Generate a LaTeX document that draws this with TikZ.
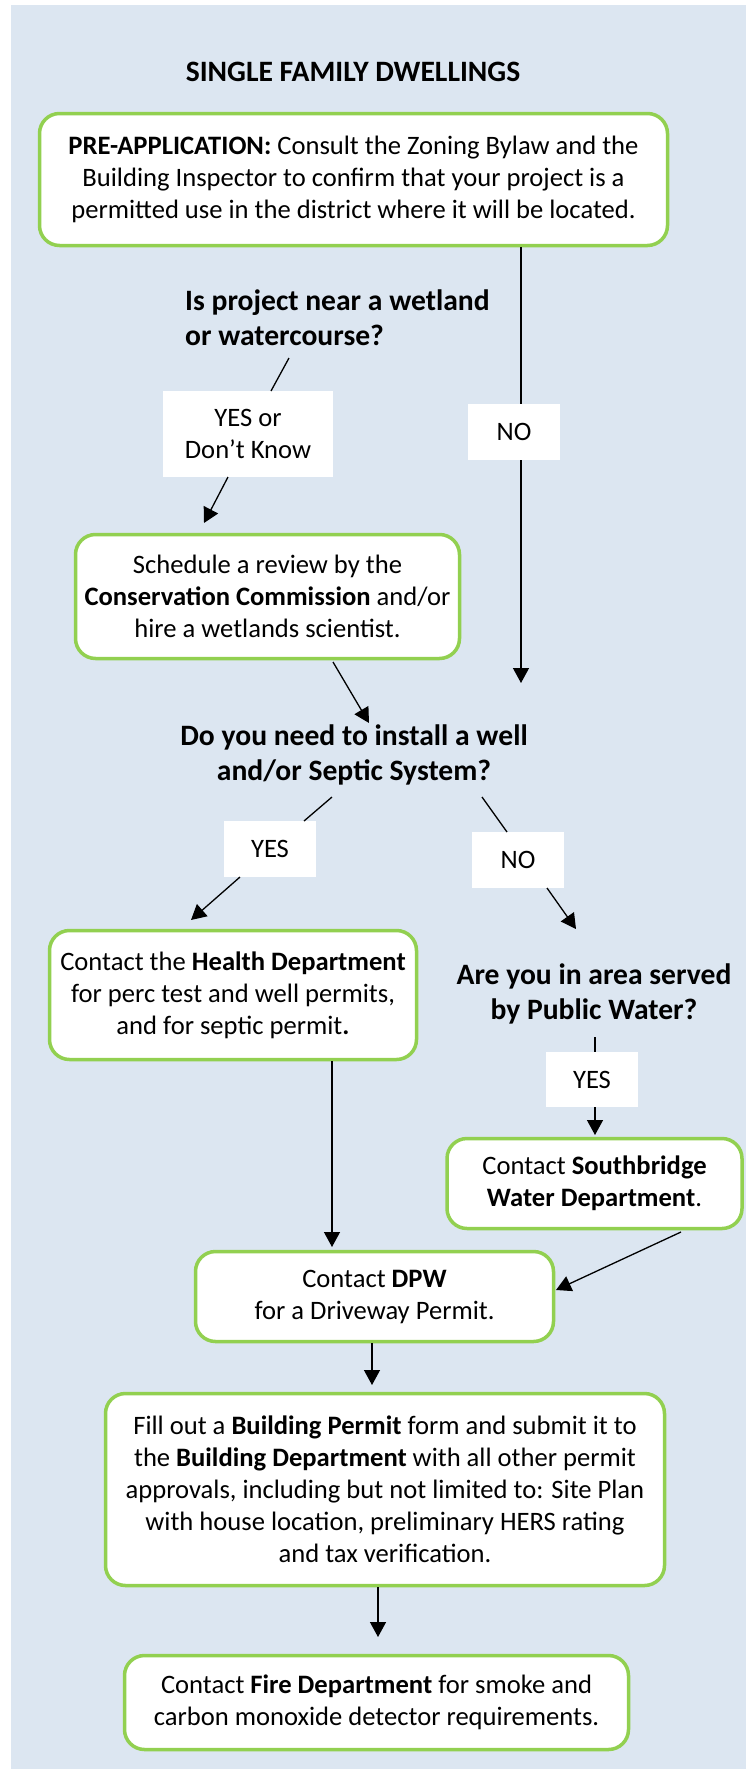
\documentclass[tikz,border=0pt]{standalone}
\usepackage{fontspec}
\setmainfont{Carlito}
\usetikzlibrary{arrows.meta}
\definecolor{bgblue}{RGB}{220,230,241}
\definecolor{boxgreen}{RGB}{146,208,80}
\tikzset{
  stepbox/.style={draw=boxgreen, line width=3.5pt, fill=white, rounded corners=20pt,
    align=center, inner sep=0pt, font=\fontsize{26.6}{32}\selectfont},
  lbl/.style={fill=white, inner sep=0pt, align=center, font=\fontsize{26.6}{32}\selectfont},
  qtext/.style={inner sep=0pt, font=\fontsize{29.6}{35}\selectfont\bfseries},
  conn/.style={line width=1.3pt},
  arr/.style={line width=1.3pt, -{Triangle[length=15pt,width=16pt]}},
}
\begin{document}
\begin{tikzpicture}[x=1pt,y=-1pt]
\useasboundingbox (0,0) rectangle (746,1769);
\fill[bgblue] (11,5) rectangle (746,1769);

\node[qtext] (title) at (353,72) {SINGLE FAMILY DWELLINGS};

\node[stepbox, minimum width=628pt, minimum height=132pt] (pre) at (353.5,179.5)
  {\textbf{PRE-APPLICATION:} Consult the Zoning Bylaw and the\\
   Building Inspector to confirm that your project is a\\
   permitted use in the district where it will be located.};

\node[qtext, anchor=west, align=left] (q1) at (185,317.5)
  {Is project near a wetland\\or watercourse?};

\node[lbl, minimum width=170pt, minimum height=86pt] (yesdk) at (248,434) {YES or\\Don't Know};
\node[lbl, minimum width=92pt, minimum height=56pt] (noa) at (514,432) {NO};

\node[stepbox, minimum width=384pt, minimum height=124pt] (cons) at (267.5,596.5)
  {Schedule a review by the\\
   \textbf{Conservation Commission} and/or\\
   hire a wetlands scientist.};

\node[qtext, align=center] (q2) at (354,755)
  {Do you need to install a well\\and/or Septic System?};

\node[lbl, minimum width=92pt, minimum height=56pt] (yesb) at (270,849) {YES};
\node[lbl, minimum width=92pt, minimum height=56pt] (nob) at (518,860) {NO};

\node[stepbox, minimum width=367pt, minimum height=129pt] (health) at (233,995)
  {Contact the \textbf{Health Department}\\
   for perc test and well permits,\\
   and for septic permit\textbf{.}};

\node[qtext, align=center] (q3) at (594,993.5)
  {Are you in area served\\by Public Water?};

\node[lbl, minimum width=92pt, minimum height=55pt] (yesc) at (592,1079.5) {YES};

\node[stepbox, minimum width=295pt, minimum height=90pt] (south) at (594.5,1183.5)
  {Contact \textbf{Southbridge}\\\textbf{Water Department}.};

\node[stepbox, minimum width=358pt, minimum height=90pt] (dpw) at (374.5,1296.5)
  {Contact \textbf{DPW}\\for a Driveway Permit.};

\node[stepbox, minimum width=559pt, minimum height=192pt] (bldg) at (385,1489.5)
  {Fill out a \textbf{Building Permit} form and submit it to\\
   the \textbf{Building Department} with all other permit\\
   approvals, including but not limited to: Site Plan\\
   with house location, preliminary HERS rating\\
   and tax verification.};

\node[stepbox, minimum width=504pt, minimum height=94pt] (fire) at (376.5,1702.5)
  {Contact \textbf{Fire Department} for smoke and\\
   carbon monoxide detector requirements.};

% connector end points
\coordinate (c1) at (521,683);
\coordinate (c2a) at (289,358);
\coordinate (c2b) at (271,391);
\coordinate (c3a) at (228,477);
\coordinate (c3b) at (204,523);
\coordinate (c4a) at (333,662);
\coordinate (c4b) at (369,723);
\coordinate (c5a) at (332,797);
\coordinate (c5b) at (304,821);
\coordinate (c6a) at (240,877);
\coordinate (c6b) at (191,920);
\coordinate (c7a) at (482,797);
\coordinate (c7b) at (507,832);
\coordinate (c8a) at (547,888);
\coordinate (c8b) at (576,929);
\coordinate (c9a) at (595,1037);
\coordinate (c10b) at (595,1135);
\coordinate (c11b) at (332,1247);
\coordinate (c12a) at (681,1232);
\coordinate (c12b) at (556,1290);
\coordinate (c13b) at (372,1385);
\coordinate (c14b) at (378,1637);

\draw[conn] (pre.south -| c1) -- (noa.north -| c1);
\draw[arr] (noa.south -| c1) -- (c1);
\draw[conn] (c2a) -- (c2b);
\draw[arr] (c3a) -- (c3b);
\draw[arr] (c4a) -- (c4b);
\draw[conn] (c5a) -- (c5b);
\draw[arr] (c6a) -- (c6b);
\draw[conn] (c7a) -- (c7b);
\draw[arr] (c8a) -- (c8b);
\draw[conn] (c9a) -- (yesc.north -| c9a);
\draw[arr] (yesc.south -| c10b) -- (c10b);
\draw[arr] (health.south -| c11b) -- (c11b);
\draw[arr] (c12a) -- (c12b);
\draw[arr] (dpw.south -| c13b) -- (c13b);
\draw[arr] (bldg.south -| c14b) -- (c14b);
\end{tikzpicture}
\end{document}
